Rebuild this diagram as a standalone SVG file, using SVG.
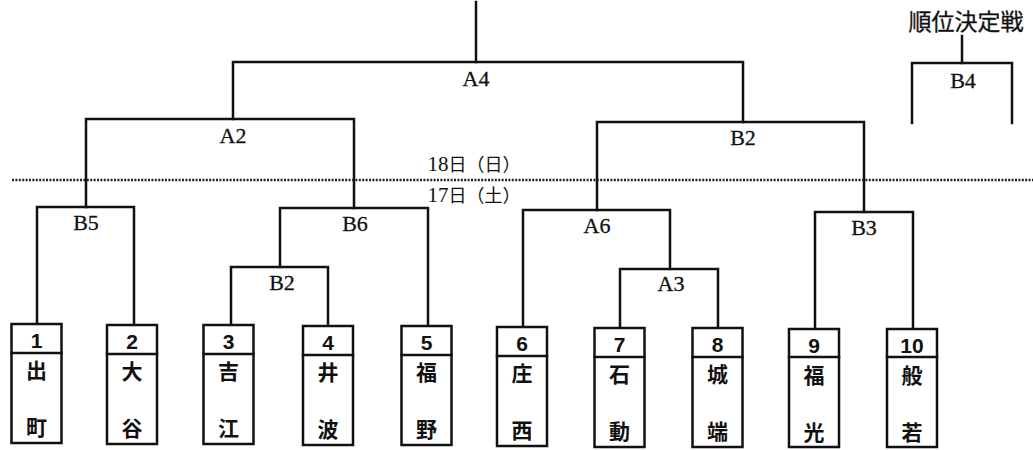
<svg xmlns="http://www.w3.org/2000/svg" width="1033" height="450" viewBox="0 0 1033 450">
<style>
.ln{fill:none;stroke:#111;stroke-width:2.5;stroke-linecap:square}
.dot{fill:none;stroke:#222;stroke-width:2.5;stroke-dasharray:2 1.4}
.lbl{font-family:"Liberation Serif","Noto Sans CJK JP",serif;font-size:22px;fill:#111;stroke:#111;stroke-width:0.3;text-anchor:middle}
.date{font-family:"Liberation Serif","Noto Sans CJK JP",serif;font-size:18px;fill:#111;text-anchor:middle}
.date tspan.d{font-size:21px}
.ttl{font-family:"Liberation Serif","Noto Sans CJK JP",serif;font-size:23px;fill:#111;stroke:#111;stroke-width:0.3;text-anchor:middle}
.box{fill:#fff;stroke:#111;stroke-width:2.5}
.num{font-family:"Liberation Sans",Arial,sans-serif;font-weight:bold;font-size:21px;fill:#111;text-anchor:middle}
.nm{font-family:"Noto Sans CJK JP",sans-serif;font-weight:bold;font-size:21px;fill:#111;text-anchor:middle}
</style>
<rect width="1033" height="450" fill="#fff"/>
<g id="connectors">
<path class="ln" d="M476,2 V62"/>
<path class="ln" d="M233,119 V62 H743 V122"/>
<path class="ln" d="M86,207 V119 H354 V208"/>
<path class="ln" d="M597,210 V122 H864 V212"/>
<path class="ln" d="M37,324 V207 H134 V325"/>
<path class="ln" d="M280,267 V208 H428 V326"/>
<path class="ln" d="M231,325 V267 H328 V326"/>
<path class="ln" d="M523,327 V210 H670 V269"/>
<path class="ln" d="M620,328 V269 H718 V328"/>
<path class="ln" d="M815,329 V212 H913 V329"/>
<path class="ln" d="M962,36 V63"/>
<path class="ln" d="M912,123 V63 H1012 V123"/>
<path class="dot" d="M12,180 H1033"/>
</g>
<g id="labels">
<text class="lbl" x="476" y="86">A4</text>
<text class="lbl" x="233" y="143">A2</text>
<text class="lbl" x="743" y="145">B2</text>
<text class="lbl" x="86" y="230">B5</text>
<text class="lbl" x="355" y="231">B6</text>
<text class="lbl" x="282" y="290">B2</text>
<text class="lbl" x="597" y="233">A6</text>
<text class="lbl" x="671" y="291">A3</text>
<text class="lbl" x="864" y="235">B3</text>
<text class="lbl" x="963" y="88">B4</text>
<text class="date" x="474" y="171"><tspan class="d">18</tspan>日（日）</text>
<text class="date" x="474" y="202"><tspan class="d">17</tspan>日（土）</text>
<text class="ttl" x="966" y="30">順位決定戦</text>
</g>
<g id="team1" transform="translate(36.5,324)"><rect class="box" x="-25" y="0" width="50" height="119"/><path class="ln" d="M-25,29 H25"/><text class="num" x="0" y="24">1</text><text class="nm" x="0" y="54">出</text><text class="nm" x="0" y="111">町</text></g>
<g id="team2" transform="translate(132,325)"><rect class="box" x="-25" y="0" width="50" height="119"/><path class="ln" d="M-25,29 H25"/><text class="num" x="0" y="24">2</text><text class="nm" x="0" y="54">大</text><text class="nm" x="0" y="111">谷</text></g>
<g id="team3" transform="translate(228.5,325)"><rect class="box" x="-25" y="0" width="50" height="119"/><path class="ln" d="M-25,29 H25"/><text class="num" x="0" y="24">3</text><text class="nm" x="0" y="54">吉</text><text class="nm" x="0" y="111">江</text></g>
<g id="team4" transform="translate(328,326)"><rect class="box" x="-25" y="0" width="50" height="119"/><path class="ln" d="M-25,29 H25"/><text class="num" x="0" y="24">4</text><text class="nm" x="0" y="54">井</text><text class="nm" x="0" y="111">波</text></g>
<g id="team5" transform="translate(426.5,326)"><rect class="box" x="-25" y="0" width="50" height="119"/><path class="ln" d="M-25,29 H25"/><text class="num" x="0" y="24">5</text><text class="nm" x="0" y="54">福</text><text class="nm" x="0" y="111">野</text></g>
<g id="team6" transform="translate(522,327)"><rect class="box" x="-25" y="0" width="50" height="119"/><path class="ln" d="M-25,29 H25"/><text class="num" x="0" y="24">6</text><text class="nm" x="0" y="54">庄</text><text class="nm" x="0" y="111">西</text></g>
<g id="team7" transform="translate(619.5,328)"><rect class="box" x="-25" y="0" width="50" height="119"/><path class="ln" d="M-25,29 H25"/><text class="num" x="0" y="24">7</text><text class="nm" x="0" y="54">石</text><text class="nm" x="0" y="111">動</text></g>
<g id="team8" transform="translate(717.5,328)"><rect class="box" x="-25" y="0" width="50" height="119"/><path class="ln" d="M-25,29 H25"/><text class="num" x="0" y="24">8</text><text class="nm" x="0" y="54">城</text><text class="nm" x="0" y="111">端</text></g>
<g id="team9" transform="translate(814,329)"><rect class="box" x="-25" y="0" width="50" height="118"/><path class="ln" d="M-25,28 H25"/><text class="num" x="0" y="24">9</text><text class="nm" x="0" y="54">福</text><text class="nm" x="0" y="111">光</text></g>
<g id="team10" transform="translate(912,329)"><rect class="box" x="-25" y="0" width="50" height="118"/><path class="ln" d="M-25,28 H25"/><text class="num" x="0" y="24">10</text><text class="nm" x="0" y="54">般</text><text class="nm" x="0" y="111">若</text></g>
</svg>
